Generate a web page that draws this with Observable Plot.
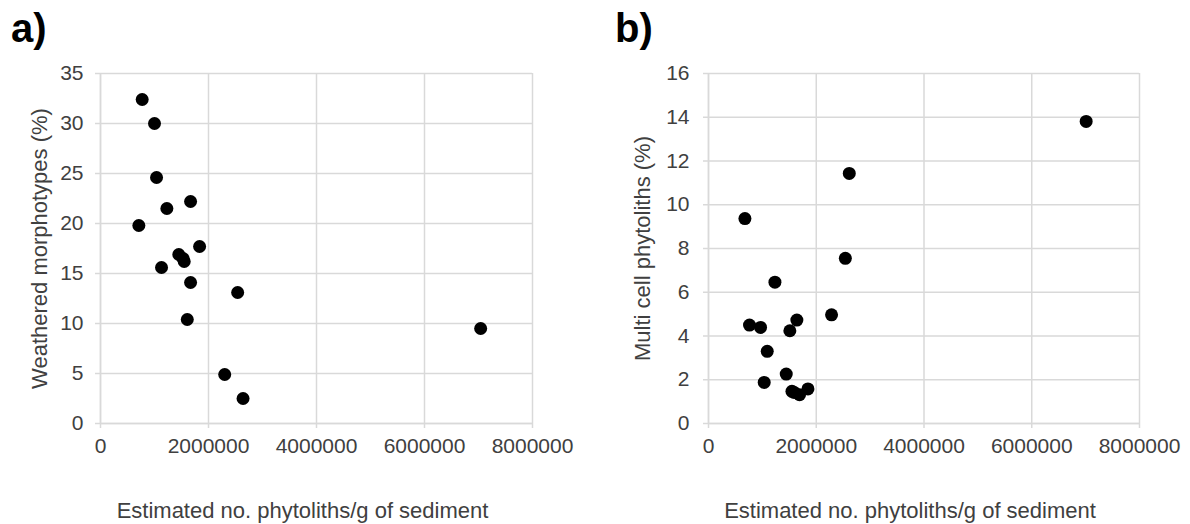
<!DOCTYPE html>
<html>
<head>
<meta charset="utf-8">
<script src="https://cdn.jsdelivr.net/npm/d3@7"></script>
<script src="https://cdn.jsdelivr.net/npm/@observablehq/plot@0.6"></script>
<style>
  html, body { margin: 0; padding: 0; background: #fff; }
  #wrap { position: relative; width: 1190px; height: 524px; overflow: hidden; font-family: "Liberation Sans", Arial, sans-serif; }
  .panel { position: absolute; top: 0; }
  .letter { position: absolute; font-family: "Liberation Sans", Arial, sans-serif; font-weight: bold; font-size: 40px; line-height: 1; color: #000; }
</style>
</head>
<body>
<div id="wrap">
  <div id="pa" class="panel" style="left:0px"></div>
  <div id="pb" class="panel" style="left:595px"></div>
  <div class="letter" style="left:11px; top:8px">a)</div>
  <div class="letter" style="left:615px; top:8px">b)</div>
</div>
<script>
// ---- Data ----
const xTitle = "Estimated no. phytoliths/g of sediment";
const xTicks = [0, 2000000, 4000000, 6000000, 8000000];

// Panel a: Weathered morphotypes (%)
const yTitleA = "Weathered morphotypes (%)";
const yTicksA = [0, 5, 10, 15, 20, 25, 30, 35];
const phytolithsA = [772000, 1000000, 1038000, 1668000, 1229000, 710000, 1835000, 1450000, 1530000, 1550000, 1130000, 1668000, 2540000, 1607000, 2300000, 2640000, 7040000];
const weathered   = [32.4, 30.0, 24.6, 22.2, 21.5, 19.8, 17.7, 16.9, 16.5, 16.2, 15.6, 14.1, 13.1, 10.4, 4.9, 2.5, 9.5];

// Panel b: Multi cell phytoliths (%)
const yTitleB = "Multi cell phytoliths (%)";
const yTicksB = [0, 2, 4, 6, 8, 10, 12, 14, 16];
const phytolithsB = [676000, 761000, 966000, 1034000, 1090000, 1233000, 1443000, 1510000, 1549000, 1590000, 1640000, 1690000, 1846000, 2284000, 2540000, 2613000, 7010000];
const multicell   = [9.37, 4.5, 4.39, 1.88, 3.3, 6.46, 2.26, 4.24, 1.47, 1.42, 4.73, 1.32, 1.58, 4.97, 7.55, 11.43, 13.81];

// ---- Style ----
const gridColor = "#d9d9d9";
const textColor = "#404040";
const font = "'Liberation Sans', Arial, sans-serif";

function scatter(xs, ys, yTicks, yMax, yTitle, margins) {
  const data = xs.map((x, i) => ({x, y: ys[i]}));
  return Plot.plot({
    width: 595,
    height: 524,
    marginLeft: margins.left,
    marginRight: margins.right,
    marginTop: 73,
    marginBottom: 101,
    style: {fontFamily: font, fontSize: "21px", background: "#fff", color: textColor, overflow: "visible"},
    x: {domain: [0, 8000000]},
    y: {domain: [0, yMax]},
    marks: [
      Plot.gridX({ticks: xTicks, stroke: gridColor, strokeOpacity: 1, strokeWidth: 1.5}),
      Plot.gridY({ticks: yTicks, stroke: gridColor, strokeOpacity: 1, strokeWidth: 1.5}),
      Plot.axisX({ticks: xTicks, tickFormat: d3.format("d"), tickSize: 5, tickPadding: 10,
        stroke: gridColor, strokeOpacity: 1, strokeWidth: 1.5, fill: textColor, fontSize: 21, label: null}),
      Plot.axisY({ticks: yTicks, tickFormat: d3.format("d"), tickSize: 5, tickPadding: margins.pad,
        stroke: gridColor, strokeOpacity: 1, strokeWidth: 1.5, fill: textColor, fontSize: 21, label: null}),
      Plot.ruleX([0], {stroke: gridColor, strokeWidth: 1.5}),
      Plot.ruleY([0], {stroke: gridColor, strokeWidth: 1.5}),
      Plot.text([xTitle], {text: d => d, frameAnchor: "bottom", lineAnchor: "bottom", textAnchor: "middle", dy: 94, dx: -14,
        fontSize: 22, fill: textColor}),
      Plot.text([yTitle], {text: d => d, frameAnchor: "left", lineAnchor: "top", textAnchor: "middle", rotate: -90, dx: -margins.titleOffset,
        fontSize: 22, fill: textColor}),
      Plot.dot(data, {x: "x", y: "y", r: 6.5, fill: "#000", stroke: "none"})
    ]
  });
}

document.getElementById("pa").appendChild(
  scatter(phytolithsA, weathered, yTicksA, 35, yTitleA, {left: 100, right: 63, pad: 12, titleOffset: 69})
);
document.getElementById("pb").appendChild(
  scatter(phytolithsB, multicell, yTicksB, 16, yTitleB, {left: 113, right: 51, pad: 14, titleOffset: 74})
);
</script>
</body>
</html>
